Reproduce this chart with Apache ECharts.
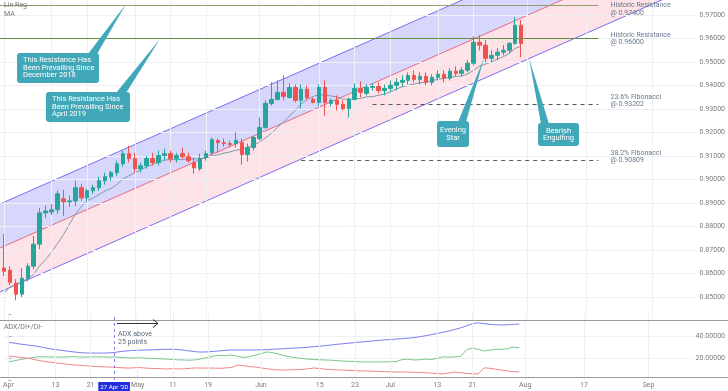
<!DOCTYPE html>
<html><head><meta charset="utf-8">
<script src="https://cdn.jsdelivr.net/npm/echarts/dist/echarts.min.js"></script>
<style>html,body{margin:0;padding:0;background:#fff}#c{width:728px;height:391px}</style>
</head><body><div id="c"></div>
<script>
// ---- trading days (2020); candle k sits on dates[k] ----
const dates = [
'04-01','04-02','04-03','04-06','04-07','04-08','04-09','04-10','04-13','04-14','04-15','04-16','04-17','04-20','04-21','04-22','04-23','04-24','04-27','04-28','04-29','04-30',
'05-01','05-04','05-05','05-06','05-07','05-08','05-11','05-12','05-13','05-14','05-15','05-18','05-19','05-20','05-21','05-22','05-25','05-26','05-27','05-28','05-29',
'06-01','06-02','06-03','06-04','06-05','06-08','06-09','06-10','06-11','06-12','06-15','06-16','06-17','06-18','06-19','06-22','06-23','06-24','06-25','06-26','06-29','06-30',
'07-01','07-02','07-03','07-06','07-07','07-08','07-09','07-10','07-13','07-14','07-15','07-16','07-17','07-20','07-21','07-22','07-23','07-24','07-27','07-28','07-29','07-30','07-31',
'08-03','08-04','08-05','08-06','08-07','08-10','08-11','08-12','08-13','08-14','08-17','08-18','08-19','08-20','08-21','08-24','08-25','08-26','08-27','08-28','08-31',
'09-01','09-02','09-03','09-04','09-07','09-08','09-09','09-10'];
const viewRange = [-0.67, 116.5];           // visible span in trading-day index units
const tickDates = ['04-01','04-13','04-21','05-01','05-11','05-19','06-01','06-15','06-23','07-01','07-13','07-21','08-03','08-17','09-01'];
const tickTexts = ['Apr','13','21','May','11','19','Jun','15','23','Jul','13','21','Aug','17','Sep'];
const cursorDate = '04-27';
const cursorText = "27 Apr '20";
const priceRange = [0.84021, 0.97641];
const priceTicks = [0.85,0.86,0.87,0.88,0.89,0.90,0.91,0.92,0.93,0.94,0.95,0.96,0.97];

// ---- OHLC ----
const openP = [.8623,.8614,.8559,.8512,.8580,.8631,.8725,.8858,.8862,.8871,
.8918,.8905,.8909,.8965,.8922,.8952,.8965,.8995,.9012,.9029,
.9067,.9110,.9089,.9046,.9059,.9089,.9072,.9102,.9110,.9089,
.9110,.9097,.9072,.9046,.9093,.9114,.9166,.9157,.9153,.9153,
.9157,.9106,.9136,.9174,.9221,.9324,.9341,.9371,.9349,.9392,
.9337,.9384,.9341,.9328,.9392,.9324,.9337,.9320,.9302,.9341,
.9388,.9367,.9392,.9396,.9379,.9388,.9401,.9414,.9422,.9443,
.9426,.9439,.9414,.9435,.9448,.9431,.9461,.9452,.9465,.9495,
.9584,.9572,.9516,.9529,.9542,.9550,.9580,.9657];
const closeP = [.8610,.8563,.8512,.8580,.8631,.8725,.8858,.8866,.8871,.8939,
.8905,.8909,.8965,.8922,.8952,.8965,.8995,.9012,.9029,.9067,
.9110,.9089,.9046,.9059,.9089,.9072,.9102,.9110,.9089,.9102,
.9097,.9080,.9050,.9089,.9110,.9170,.9157,.9153,.9149,.9166,
.9106,.9136,.9179,.9221,.9324,.9341,.9371,.9354,.9392,.9337,
.9384,.9349,.9328,.9392,.9328,.9337,.9320,.9302,.9341,.9388,
.9371,.9392,.9396,.9379,.9388,.9401,.9414,.9422,.9443,.9426,
.9439,.9414,.9435,.9448,.9431,.9461,.9452,.9465,.9495,.9584,
.9572,.9516,.9529,.9542,.9550,.9580,.9657,.95792];
const lowP = [.8589,.8550,.8486,.8499,.8567,.8619,.8704,.8837,.8849,.8854,
.8845,.8884,.8888,.8909,.8909,.8939,.8952,.8978,.8995,.9016,
.9055,.9072,.9029,.9029,.9046,.9059,.9059,.9080,.9072,.9072,
.9089,.9072,.9025,.9037,.9080,.9102,.9114,.9140,.9136,.9136,
.9063,.9076,.9123,.9166,.9217,.9315,.9337,.9337,.9345,.9328,
.9302,.9337,.9324,.9311,.9272,.9311,.9294,.9294,.9264,.9337,
.9349,.9358,.9379,.9367,.9358,.9371,.9379,.9396,.9405,.9414,
.9405,.9401,.9401,.9422,.9414,.9422,.9439,.9439,.9456,.9486,
.9550,.9499,.9499,.9508,.9529,.9537,.9572,.9520];
const highP = [.8768,.8631,.8576,.8623,.8644,.8760,.8879,.8888,.8896,.8952,
.8956,.8931,.8995,.8982,.8961,.8978,.9012,.9029,.9037,.9080,
.9123,.9144,.9114,.9072,.9102,.9114,.9123,.9131,.9123,.9114,
.9136,.9114,.9093,.9110,.9123,.9179,.9174,.9174,.9166,.9200,
.9174,.9153,.9187,.9264,.9337,.9414,.9422,.9443,.9409,.9405,
.9405,.9401,.9349,.9405,.9422,.9345,.9358,.9337,.9349,.9409,
.9418,.9405,.9409,.9414,.9405,.9422,.9431,.9443,.9456,.9465,
.9456,.9456,.9448,.9465,.9465,.9473,.9482,.9478,.9508,.9610,
.9614,.9593,.9550,.9559,.9572,.9584,.9691,.9679];
const priorCloses = [.8330,.8420,.8460,.8510,.8560,.8540,.8620,.8590]; // late-March closes feeding the MA(9)
const maPeriod = 9;

// ---- linear regression channel: prices at the left and right edge of the view ----
const regUpper = [0.88958, 1.02042];
const regMid   = [0.87086, 1.00169];
const regLower = [0.85213, 0.98296];

// ---- horizontal levels ----
const levelValues = [0.974, 0.960, 0.93202, 0.90809];
const levelTexts = ['Historic Resistance\n@ 0.97400','Historic Resistance\n@ 0.96000','23.6% Fibonacci\n@ 0.93202','38.2% Fibonacci\n@ 0.90809'];
const levelFrom = [null, null, '06-26', '06-10'];   // null = from the left edge
const levelTo = ['08-19','08-19','08-19','08-19'];
const lastPrice = 0.95792;

// ---- ADX / DI+ / DI- ----
const adx = [34.2,33.5,32.7,32.0,31.3,30.6,29.5,28.5,27.6,27.0,
26.3,25.6,25.0,24.6,24.5,24.5,24.5,24.6,25.0,25.8,
26.4,26.8,27.0,27.2,27.4,27.6,27.8,27.9,28.0,27.6,
27.0,26.3,25.6,25.4,25.6,26.0,26.5,27.0,27.3,27.3,
27.3,27.3,27.3,27.4,27.6,27.9,28.2,28.5,28.8,29.1,
29.4,29.8,30.3,30.8,31.3,31.8,32.5,33.0,33.5,34.0,
34.5,35.0,35.5,36.0,36.4,36.8,37.2,37.6,38.0,38.5,
39.3,40.2,41.2,42.3,43.4,44.6,46.0,47.4,49.2,51.2,
52.0,51.2,50.6,50.2,50.0,50.2,50.6,50.9];
const diPlus = [16.5,17.5,18.5,19.5,20.3,21.0,21.2,21.0,20.8,20.9,
21.0,21.2,21.0,20.8,21.0,21.2,21.0,20.8,20.9,20.6,
20.2,20.0,20.3,20.0,19.6,19.5,19.2,19.0,18.6,18.3,
18.2,18.0,18.4,19.5,20.5,21.8,22.4,22.0,22.7,21.5,
20.5,21.2,22.6,24.0,25.5,24.8,23.5,22.0,21.0,20.2,
19.6,19.0,18.6,18.4,18.2,18.0,17.6,17.2,17.0,16.8,
16.5,16.4,16.4,16.5,16.4,16.6,16.8,18.5,19.0,18.2,
18.4,19.0,18.6,19.8,21.0,20.8,21.0,21.6,27.5,29.0,
27.8,26.4,27.2,28.0,27.8,28.6,30.0,29.2];
const diMinus = [21.8,21.2,20.6,20.0,19.0,18.0,17.0,16.4,15.6,15.0,
14.4,13.8,13.4,13.0,12.6,12.3,12.0,11.8,11.6,11.2,
10.9,10.9,11.4,11.0,10.6,10.4,10.2,10.0,10.3,10.0,
10.2,10.6,11.0,10.8,10.9,10.8,10.6,11.0,11.4,13.6,
13.0,12.2,11.8,11.0,10.2,9.6,9.2,9.0,9.2,9.4,
9.6,10.2,10.9,10.4,9.8,9.4,9.2,9.0,8.8,8.5,
8.2,8.2,8.0,7.8,7.6,7.4,7.3,7.3,7.2,7.0,
6.8,6.6,6.2,5.8,5.5,6.4,7.2,6.6,6.0,5.6,
5.5,11.0,10.6,9.8,9.0,8.2,7.6,7.3];
const adxLabelTicks = [20, 40];

// ================= build =================
const FONT = 'Roboto, "Liberation Sans", Arial, sans-serif';
const idx = d => dates.indexOf(d);
const candleData = openP.map((o, k) => [k, o, closeP[k], lowP[k], highP[k]]);
const allCloses = priorCloses.concat(closeP);
const maData = closeP.map((c, k) => {
  let s = 0; for (let j = 0; j < maPeriod; j++) s += allCloses[k + priorCloses.length - j];
  return [k, +(s / maPeriod).toFixed(5)];
});
const toXY = arr => arr.map((v, k) => [k, v]);
const tickIdx = tickDates.map(idx);
const curIdx = idx(cursorDate);
const xL = viewRange[0], xR = viewRange[1];

const levelColors = ['#8fa070', '#5f9147', '#555', '#555'];
const levelTypes = ['solid', 'solid', [4, 4], [4, 4]];
const levelShift = ['down', '', 'up', 'up'];   // nudge the label block relative to its line
const shiftText = (t, s) => s === 'down' ? ' \n' + t : (s === 'up' ? t + '\n ' : t);
const levelLines = levelValues.map((v, k) => [
  { coord: [levelFrom[k] ? idx(levelFrom[k]) : xL, v], lineStyle: { color: levelColors[k], width: 1, type: levelTypes[k] },
    label: { show: true, position: 'end', distance: 12, formatter: shiftText(levelTexts[k], levelShift[k]), color: '#66788f', fontSize: 7, lineHeight: 7.5, fontFamily: FONT } },
  { coord: [idx(levelTo[k]), v] }
]);
const gridV = tickIdx.map(i => ({ xAxis: i, lineStyle: { color: '#eef0f4', width: 1, type: 'solid' } }));
const gridH = priceTicks.map(v => ({ yAxis: v, lineStyle: { color: '#eef0f4', width: 1, type: 'solid' } }));

const chart = echarts.init(document.getElementById('c'));
const axisLabelColor = '#7a7a7a';
const option = {
  animation: false,
  backgroundColor: '#fff',
  grid: [
    { left: 0, top: 0, width: 698.7, height: 320 },
    { left: 0, top: 314, width: 698.7, height: 66 }
  ],
  xAxis: [
    { type: 'value', gridIndex: 0, min: xL, max: xR, show: false, splitLine: { show: false } },
    { type: 'value', gridIndex: 1, min: xL, max: xR,
      axisLine: { show: false }, axisTick: { show: false }, splitLine: { show: false },
      axisLabel: {
        show: true, margin: 2, fontSize: 7, color: axisLabelColor, fontFamily: FONT,
        customValues: tickIdx.concat([curIdx]),
        formatter: (v) => v === curIdx ? '{hl|' + cursorText + '}' : (tickIdx.includes(v) ? tickTexts[tickIdx.indexOf(v)] : ''),
        rich: { hl: { backgroundColor: '#1f2fe0', color: '#fff', fontSize: 6.2, padding: [2, 2, 1, 2], fontFamily: FONT } }
      } }
  ],
  yAxis: [
    { type: 'value', gridIndex: 0, position: 'right', min: priceRange[0], max: priceRange[1],
      axisLine: { show: true, lineStyle: { color: '#c9c9c9' } },
      axisTick: { show: true, length: 3, lineStyle: { color: '#aaa' }, customValues: priceTicks },
      axisLabel: { margin: 3, fontSize: 7, color: axisLabelColor, fontFamily: FONT, customValues: priceTicks,
        formatter: v => v.toFixed(5) },
      splitLine: { show: false } },
    { type: 'value', gridIndex: 1, position: 'right', min: 0, max: 60, interval: 20,
      axisLine: { show: true, lineStyle: { color: '#c9c9c9' } },
      axisTick: { show: true, length: 3, lineStyle: { color: '#aaa' } },
      axisLabel: { margin: 3, fontSize: 7, color: axisLabelColor, fontFamily: FONT,
        formatter: v => adxLabelTicks.includes(v) ? v.toFixed(5) : '' },
      splitLine: { show: true, lineStyle: { color: ['transparent', '#eef0f4', '#eef0f4', 'transparent'] } } }
  ],
  series: [
    { name: 'grid', type: 'line', xAxisIndex: 0, yAxisIndex: 0, data: [], silent: true, z: 0,
      markLine: { silent: true, symbol: ['none', 'none'], label: { show: false }, data: gridV.concat(gridH) } },
    { name: 'Lin Reg', type: 'custom', xAxisIndex: 0, yAxisIndex: 0, silent: true, z: 1, clip: true,
      data: [[xL, regLower[0], regMid[0], regUpper[0], xR, regLower[1], regMid[1], regUpper[1]]],
      renderItem: (params, api) => {
        const L0 = api.coord([api.value(0), api.value(1)]), M0 = api.coord([api.value(0), api.value(2)]), U0 = api.coord([api.value(0), api.value(3)]);
        const L1 = api.coord([api.value(4), api.value(5)]), M1 = api.coord([api.value(4), api.value(6)]), U1 = api.coord([api.value(4), api.value(7)]);
        const ln = (a, b, c) => ({ type: 'line', shape: { x1: a[0], y1: a[1], x2: b[0], y2: b[1] }, style: { stroke: c, lineWidth: 1 } });
        return { type: 'group', children: [
          { type: 'polygon', shape: { points: [U0, U1, M1, M0] }, style: { fill: 'rgba(118,122,240,0.3)' } },
          { type: 'polygon', shape: { points: [M0, M1, L1, L0] }, style: { fill: 'rgba(245,110,135,0.2)' } },
          ln(U0, U1, '#7c6cf0'), ln(M0, M1, '#e66a86'), ln(L0, L1, '#7c6cf0')
        ] };
      } },
    { name: 'MA', type: 'line', xAxisIndex: 0, yAxisIndex: 0, symbol: 'none', data: maData,
      lineStyle: { color: '#7f99b0', width: 1 }, z: 4 },
    { name: 'price', type: 'candlestick', xAxisIndex: 0, yAxisIndex: 0, data: candleData,
      encode: { x: 0, y: [1, 2, 3, 4] }, barWidth: 4, z: 5,
      itemStyle: { color: '#26a69a', color0: '#ef5350', borderColor: '#26a69a', borderColor0: '#ef5350', borderWidth: 1 },
      markLine: { silent: true, symbol: ['none', 'none'], z: 6,
        data: levelLines.concat([
          { yAxis: lastPrice, lineStyle: { opacity: 0 },
            label: { show: true, position: 'end', distance: 1, formatter: lastPrice.toFixed(5), color: '#fff',
              backgroundColor: '#ef5350', padding: [1, 3, 0, 3], fontSize: 7, fontFamily: FONT } }
        ]) } },
    { name: 'ADX', type: 'line', xAxisIndex: 1, yAxisIndex: 1, symbol: 'none', data: toXY(adx),
      lineStyle: { color: '#7b7ff0', width: 1 },
      markLine: { silent: true, symbol: ['none', 'none'], label: { show: false },
        data: gridV.concat([{ xAxis: curIdx, lineStyle: { color: '#8a7cf0', width: 1, type: [3, 3] } }]) } },
    { name: 'DI+', type: 'line', xAxisIndex: 1, yAxisIndex: 1, symbol: 'none', data: toXY(diPlus),
      lineStyle: { color: '#7cc48a', width: 1 } },
    { name: 'DI-', type: 'line', xAxisIndex: 1, yAxisIndex: 1, symbol: 'none', data: toXY(diMinus),
      lineStyle: { color: '#f08585', width: 1 } }
  ]
};
chart.setOption(option);

// ---- annotations (drawing layer) ----
const teal = '#41a8b9';
const txt = (x, y, s, o) => Object.assign({ type: 'text', x: x, y: y, silent: true, z: 20,
  style: Object.assign({ text: s, fill: '#777', fontSize: 7, fontFamily: FONT }, o || {}) });
function callout(box, tip, base, lines, align) {
  const els = [];
  els.push({ type: 'polygon', z: 18, silent: true, shape: { points: [[base[0], box[1] + 1], [base[1], box[1] + 1], tip] }, style: { fill: teal } });
  els.push({ type: 'rect', z: 19, silent: true, shape: { x: box[0], y: box[1], width: box[2], height: box[3], r: 3 }, style: { fill: teal } });
  const tx = align === 'center' ? box[0] + box[2] / 2 : box[0] + 6;
  els.push({ type: 'text', z: 20, silent: true, x: tx, y: box[1] + box[3] / 2,
    style: { text: lines, fill: '#fff', fontSize: 7.5, lineHeight: 7.6, fontFamily: FONT, align: align, verticalAlign: 'middle' } });
  return els;
}
const graphics = [
  { type: 'line', z: 15, silent: true, shape: { x1: 0, y1: 320.5, x2: 728, y2: 320.5 }, style: { stroke: '#9a9a9a', lineWidth: 1 } },
  { type: 'line', z: 15, silent: true, shape: { x1: 0, y1: 377.5, x2: 728, y2: 377.5 }, style: { stroke: '#9a9a9a', lineWidth: 1 } },
  txt(4, 2, 'Lin Reg'), txt(4, 11, 'MA'), txt(4, 324, 'ADX/DI+/DI-'),
  txt(118, 330, 'ADX above\n25 points', { fill: '#5c6b7c', lineHeight: 8 }),
  { type: 'polyline', z: 15, silent: true, shape: { points: [[117, 323.5], [158, 323.5]] }, style: { stroke: '#333', lineWidth: 1 } },
  { type: 'polyline', z: 15, silent: true, shape: { points: [[153, 319.5], [158, 323.5], [153, 327.5]] }, style: { stroke: '#333', lineWidth: 1, fill: null } }
].concat(
  callout([17, 53, 82, 30], [126, 4], [88, 97], 'This Resistance Has\nBeen Prevailing Since\nDecember 2018', 'left'),
  callout([46, 92, 84, 30], [160, 39], [116, 126], 'This Resistance Has\nBeen Prevailing Since\nApril 2019', 'left'),
  callout([437, 121, 32, 26], [484, 58], [458, 466], 'Evening\nStar', 'center'),
  callout([538, 123, 41, 23], [529, 58], [541, 549], 'Bearish\nEngulfing', 'center')
);
chart.setOption({ graphic: graphics });
</script></body></html>
